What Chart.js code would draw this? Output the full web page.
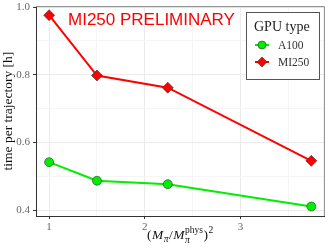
<!DOCTYPE html>
<html>
<head>
<meta charset="utf-8">
<script src="https://cdn.jsdelivr.net/npm/chart.js@4"></script>
<style>
  html, body { margin: 0; padding: 0; background: #fff; }
  #wrap { width: 331px; height: 248px; }
</style>
</head>
<body>
<div id="wrap"><canvas id="gpuChart" width="331" height="248"></canvas></div>
<script>
// data
const massRatio = [1, 1.5, 2.24, 3.74];
const timeA100 = [0.542, 0.487, 0.477, 0.411];
const timeMI250 = [0.976, 0.798, 0.762, 0.546];
const seriesNames = ["A100", "MI250"];
const xTicks = [1, 1.5, 2, 2.5, 3, 3.5];
const yTicks = [0.4, 0.5, 0.6, 0.7, 0.8, 0.9, 1.0];
const xLabels = { 1: "1", 2: "2", 3: "3" };
const yLabels = { 0.4: "0.4", 0.6: "0.6", 0.8: "0.8", 1: "1.0" };

const SERIF = "'Liberation Serif', 'DejaVu Serif', serif";
const SANS = "'Liberation Sans', Arial, sans-serif";

function toPoints(xs, ys) {
  return xs.map((x, i) => ({ x: x, y: ys[i] }));
}

function isMajor(v, labels) {
  return labels[Math.round(v * 10) / 10] !== undefined;
}

// extra drawing: panel border, annotation, legend, axis titles
const extras = {
  id: "extras",
  afterDraw(chart) {
    const ctx = chart.ctx;
    const a = chart.chartArea;
    ctx.save();

    // top/right panel border
    ctx.strokeStyle = "#8a8a8a";
    ctx.lineWidth = 1;
    ctx.beginPath();
    ctx.moveTo(a.left, a.top + 0.5);
    ctx.lineTo(a.right - 0.5, a.top + 0.5);
    ctx.lineTo(a.right - 0.5, a.bottom);
    ctx.stroke();

    // annotation
    ctx.fillStyle = "#ff0000";
    ctx.font = "17px " + SANS;
    ctx.textBaseline = "alphabetic";
    ctx.textAlign = "left";
    ctx.fillText("MI250 PRELIMINARY", 68, 25);

    // legend box
    const lx = 246, ly = 12, lw = 73, lh = 67;
    ctx.fillStyle = "#fff";
    ctx.fillRect(lx, ly, lw, lh);
    ctx.strokeStyle = "#555";
    ctx.lineWidth = 1;
    ctx.strokeRect(lx + 0.5, ly + 0.5, lw, lh);
    ctx.fillStyle = "#222";
    ctx.font = "14px " + SERIF;
    ctx.fillText("GPU type", 254, 31);

    chart.data.datasets.forEach((ds, i) => {
      const cy = 45 + i * 17;
      ctx.strokeStyle = ds.borderColor;
      ctx.lineWidth = 2;
      ctx.beginPath();
      ctx.moveTo(255, cy);
      ctx.lineTo(269, cy);
      ctx.stroke();
      ctx.fillStyle = ds.pointBackgroundColor;
      ctx.strokeStyle = "#333";
      ctx.lineWidth = 0.6;
      ctx.beginPath();
      if (ds.pointStyle === "rectRot") {
        const r = 5;
        ctx.moveTo(262, cy - r);
        ctx.lineTo(262 + r, cy);
        ctx.lineTo(262, cy + r);
        ctx.lineTo(262 - r, cy);
        ctx.closePath();
      } else {
        ctx.arc(262, cy, 4, 0, Math.PI * 2);
      }
      ctx.fill();
      ctx.stroke();
      ctx.fillStyle = "#333";
      ctx.font = "11.5px " + SERIF;
      ctx.textBaseline = "middle";
      ctx.fillText(seriesNames[i], 278, cy + 0.5);
      ctx.textBaseline = "alphabetic";
    });

    // y title
    ctx.fillStyle = "#111";
    ctx.font = "13.5px " + SERIF;
    ctx.translate(12, (a.top + a.bottom) / 2);
    ctx.rotate(-Math.PI / 2);
    ctx.textAlign = "center";
    ctx.fillText("time per trajectory [h]", 0, 0);
    ctx.setTransform(1, 0, 0, 1, 0, 0);

    // x title: (M_pi / M_pi^phys)^2
    const base = 239;
    const big = "13.5px " + SERIF, bigIt = "italic 13.5px " + SERIF;
    const small = "9.5px " + SERIF, smallIt = "italic 9.5px " + SERIF;
    const parts = [
      { t: "(", f: big, dy: 0 },
      { t: "M", f: bigIt, dy: 0 },
      { t: "\u03c0", f: smallIt, dy: 3 },
      { t: "/", f: big, dy: 0 },
      { t: "M", f: bigIt, dy: 0 },
      { t: "phys", f: small, dy: -6, sub: { t: "\u03c0", f: smallIt, dy: 4 } },
      { t: ")", f: big, dy: 0 },
      { t: "2", f: small, dy: -6 }
    ];
    let total = 0;
    parts.forEach(p => { ctx.font = p.f; p.w = ctx.measureText(p.t).width; total += p.w + 0.5; });
    let x = (a.left + a.right) / 2 - total / 2;
    ctx.textAlign = "left";
    parts.forEach(p => {
      ctx.font = p.f;
      ctx.fillText(p.t, x, base + p.dy);
      if (p.sub) {
        ctx.font = p.sub.f;
        ctx.fillText(p.sub.t, x, base + p.sub.dy);
      }
      x += p.w + 0.5;
    });

    ctx.restore();
  }
};

const ctx = document.getElementById("gpuChart").getContext("2d");
const gpuChart = new Chart(ctx, {
  type: "scatter",
  data: {
    datasets: [
      {
        label: seriesNames[0],
        data: toPoints(massRatio, timeA100),
        showLine: true,
        borderColor: "#00ee00",
        borderWidth: 2,
        pointStyle: "circle",
        pointRadius: 4.5,
        pointBackgroundColor: "#00ee00",
        pointBorderColor: "#333",
        pointBorderWidth: 0.6
      },
      {
        label: seriesNames[1],
        data: toPoints(massRatio, timeMI250),
        showLine: true,
        borderColor: "#ff0000",
        borderWidth: 2,
        pointStyle: "rectRot",
        pointRadius: 5.5,
        pointBackgroundColor: "#ff0000",
        pointBorderColor: "#333",
        pointBorderWidth: 0.6
      }
    ]
  },
  options: {
    responsive: false,
    animation: false,
    layout: { padding: { left: 0, right: 2, top: 3, bottom: 0 } },
    plugins: {
      legend: { display: false },
      tooltip: { enabled: false }
    },
    scales: {
      x: {
        type: "linear",
        min: 0.863,
        max: 3.882,
        afterBuildTicks: (s) => { s.ticks = xTicks.map(v => ({ value: v })); },
        afterFit: (s) => { s.height = 32; s.paddingLeft = 0; s.paddingRight = 0; },
        border: { display: true, color: "#333", width: 1 },
        grid: {
          color: (c) => isMajor(c.tick ? c.tick.value : 0, xLabels) ? "#ebebeb" : "#f5f5f5",
          tickColor: (c) => isMajor(c.tick ? c.tick.value : 0, xLabels) ? "#333" : "rgba(0,0,0,0)",
          tickLength: 3,
          lineWidth: 1
        },
        ticks: {
          autoSkip: false,
          maxRotation: 0,
          padding: 2,
          color: "#666",
          font: { family: SERIF, size: 11 },
          callback: (v) => xLabels[v] || ""
        }
      },
      y: {
        min: 0.383,
        max: 1.003,
        afterBuildTicks: (s) => { s.ticks = yTicks.map(v => ({ value: v })); },
        afterFit: (s) => { s.width = 36; s.paddingTop = 0; s.paddingBottom = 0; },
        border: { display: true, color: "#333", width: 1 },
        grid: {
          color: (c) => isMajor(c.tick ? c.tick.value : 0, yLabels) ? "#ebebeb" : "#f5f5f5",
          tickColor: (c) => isMajor(c.tick ? c.tick.value : 0, yLabels) ? "#333" : "rgba(0,0,0,0)",
          tickLength: 3,
          lineWidth: 1
        },
        ticks: {
          autoSkip: false,
          padding: 3,
          color: "#666",
          font: { family: SERIF, size: 11 },
          callback: (v) => yLabels[Math.round(v * 10) / 10] || ""
        }
      }
    }
  },
  plugins: [extras]
});
</script>
</body>
</html>
